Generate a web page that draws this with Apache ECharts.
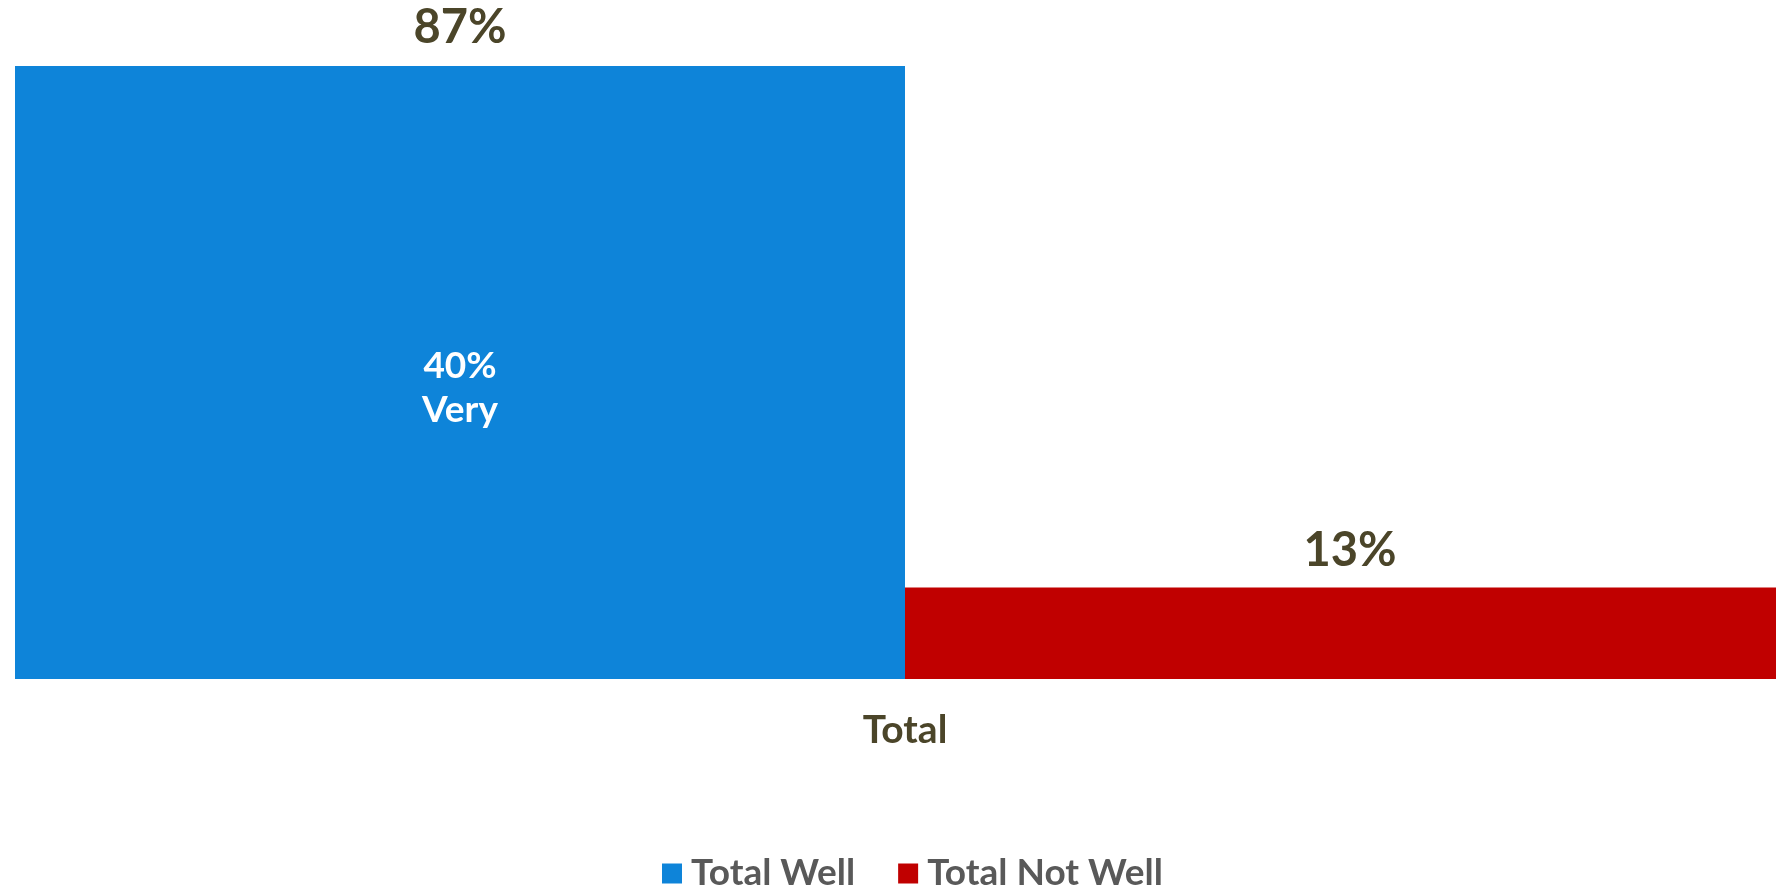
<!DOCTYPE html>
<html><head><meta charset="utf-8">
<script src="https://cdn.jsdelivr.net/npm/echarts@6/dist/echarts.min.js"></script>
<style>html,body{margin:0;padding:0;background:#fff}#c{width:1776px;height:885px}</style>
</head><body><div id="c"></div>
<script>
const categories = ['Total'];
const seriesNames = ['Total Well', 'Total Not Well'];
const wellValues = [87];
const notWellValues = [13];
const veryValues = [40];
const veryText = 'Very';
const colors = ['#0E84D9', '#C00000'];
const FONT = 'Lato';
const labelColor = '#4B4529';

const chart = echarts.init(document.getElementById('c'));
chart.setOption({
  animation: false,
  textStyle: { fontFamily: FONT },
  grid: { left: 15, width: 1780, top: 66, bottom: 206, containLabel: false, outerBoundsMode: 'none' },
  xAxis: {
    type: 'category', data: categories,
    axisLine: { show: false }, axisTick: { show: false },
    axisLabel: { color: labelColor, fontSize: 39, fontWeight: 'bold', fontFamily: FONT, margin: 32 }
  },
  yAxis: { type: 'value', min: 0, max: 87, show: false, splitLine: { show: false } },
  legend: {
    data: seriesNames, left: 657, top: 850,
    icon: 'rect', itemWidth: 20, itemHeight: 20, itemGap: 43,
    textStyle: { color: '#595959', fontSize: 37, fontWeight: 'bold', fontFamily: FONT, padding: [0, 0, 0, 4] }
  },
  series: [
    {
      name: seriesNames[0], type: 'bar', data: wellValues,
      barGap: 0, barCategoryGap: 0,
      itemStyle: { color: colors[0] },
      label: {
        show: true, position: 'inside', offset: [0, 16],
        formatter: (p) => veryValues[p.dataIndex] + '%\n' + veryText,
        color: '#fff', fontSize: 37, fontWeight: 'bold', lineHeight: 44, fontFamily: FONT
      },
      markPoint: {
        symbol: 'rect', symbolSize: 1, itemStyle: { color: 'rgba(0,0,0,0)' },
        data: [{ type: 'max', name: 'top' }],
        label: {
          show: true, position: 'top', distance: 14,
          formatter: (p) => p.value + '%',
          color: labelColor, fontSize: 47, fontWeight: 'bold', fontFamily: FONT
        }
      }
    },
    {
      name: seriesNames[1], type: 'bar', data: notWellValues,
      itemStyle: { color: colors[1] },
      label: {
        show: true, position: 'top', distance: 13,
        formatter: (p) => p.value + '%',
        color: labelColor, fontSize: 47, fontWeight: 'bold', fontFamily: FONT
      }
    }
  ]
});
</script></body></html>
